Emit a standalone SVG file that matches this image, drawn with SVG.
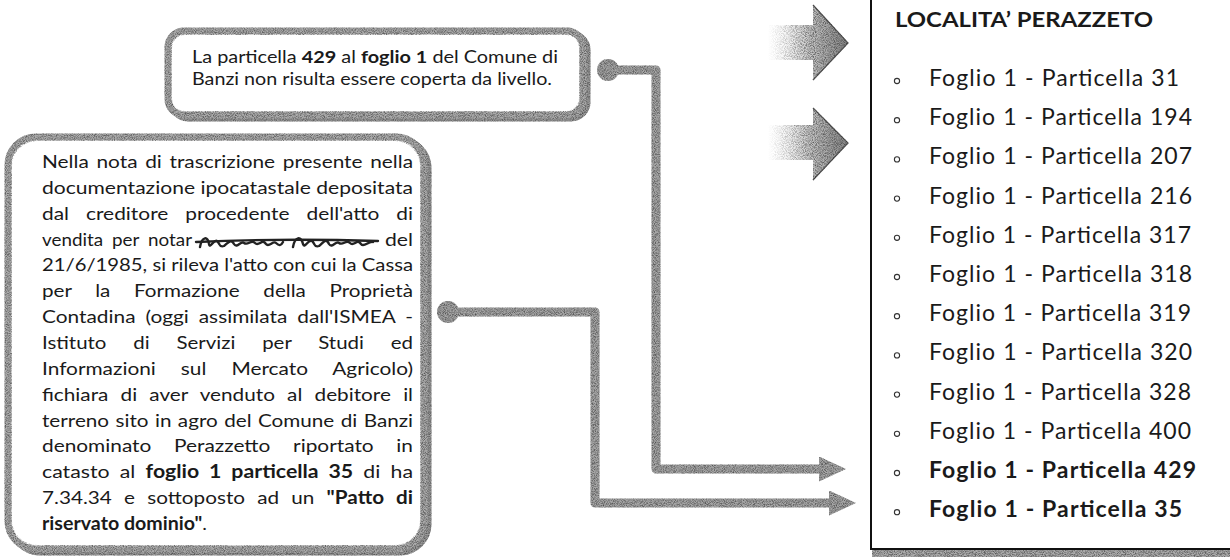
<svg xmlns="http://www.w3.org/2000/svg" width="1230" height="560" viewBox="0 0 1230 560">
<defs>
  <style>
    .t { font-family: Lato, "Open Sans", "Liberation Sans", sans-serif; fill: #1a1a1a; }
    .box { font-size: 18px; }
    .note { font-size: 17px; }
    .li { font-size: 23px; }
    .b { font-weight: bold; }
    .frame { fill: #ffffff; stroke: #ababab; stroke-width: 7; }
    .shadow { fill: none; stroke: #999999; stroke-width: 7; }
    .conn { fill: none; stroke: #a6a6a6; stroke-width: 9; stroke-linejoin: round; }
    .dot { fill: #a3a3a3; }
    .bul { fill: none; stroke: #333; stroke-width: 1.1; }
    .scrib { fill: none; stroke: #222; stroke-width: 2.4; stroke-linecap: round; }
  </style>
  <filter id="grain" filterUnits="userSpaceOnUse" x="0" y="0" width="1230" height="560" color-interpolation-filters="sRGB">
    <feTurbulence type="fractalNoise" baseFrequency="1.1" numOctaves="1" seed="7" result="n"/>
    <feColorMatrix in="n" type="matrix" values="0 0 0 0 0.15  0 0 0 0 0.15  0 0 0 0 0.15  1.6 0 0 0 -0.62" result="dots"/>
    <feComposite in="dots" in2="SourceAlpha" operator="in" result="d2"/>
    <feMerge><feMergeNode in="SourceGraphic"/><feMergeNode in="d2"/></feMerge>
  </filter>
  <linearGradient id="fadeArrow" x1="0" y1="0" x2="1" y2="0">
    <stop offset="0" stop-color="#ffffff" stop-opacity="0"/>
    <stop offset="0.5" stop-color="#c8c8c8"/>
    <stop offset="1" stop-color="#848484"/>
  </linearGradient>
  <marker id="head" markerUnits="userSpaceOnUse" markerWidth="27" markerHeight="25" viewBox="0 0 27 25" refX="1" refY="12.5" orient="auto">
    <path d="M0,0 L27,12.5 L0,25 Z" fill="#a6a6a6"/>
  </marker>
</defs>

<rect width="1230" height="560" fill="#ffffff"/>

<!-- Right list panel -->
<g id="node-list-panel">
  <rect x="872" y="550" width="358" height="7" fill="#ababab" filter="url(#grain)"/>
  <path d="M871,0 V549 H1230" fill="none" stroke="#111" stroke-width="2"/>
  <text class="t b" x="895" y="27" font-size="20" textLength="258" lengthAdjust="spacingAndGlyphs">LOCALITA’ PERAZZETO</text>
  <g>
    <circle class="bul" cx="897" cy="81" r="2.6"/>
    <circle class="bul" cx="897" cy="120.2" r="2.6"/>
    <circle class="bul" cx="897" cy="159.4" r="2.6"/>
    <circle class="bul" cx="897" cy="198.6" r="2.6"/>
    <circle class="bul" cx="897" cy="237.8" r="2.6"/>
    <circle class="bul" cx="897" cy="277" r="2.6"/>
    <circle class="bul" cx="897" cy="316.2" r="2.6"/>
    <circle class="bul" cx="897" cy="355.4" r="2.6"/>
    <circle class="bul" cx="897" cy="394.6" r="2.6"/>
    <circle class="bul" cx="897" cy="433.8" r="2.6"/>
    <circle class="bul" cx="897" cy="473" r="2.6"/>
    <circle class="bul" cx="897" cy="512.2" r="2.6"/>
  </g>
  <text class="t li" x="929" y="86" textLength="250">Foglio 1 - Particella 31</text>
  <text class="t li" x="929" y="125.2" textLength="263">Foglio 1 - Particella 194</text>
  <text class="t li" x="929" y="164.4" textLength="263">Foglio 1 - Particella 207</text>
  <text class="t li" x="929" y="203.6" textLength="263">Foglio 1 - Particella 216</text>
  <text class="t li" x="929" y="242.8" textLength="262">Foglio 1 - Particella 317</text>
  <text class="t li" x="929" y="282" textLength="263">Foglio 1 - Particella 318</text>
  <text class="t li" x="929" y="321.2" textLength="262">Foglio 1 - Particella 319</text>
  <text class="t li" x="929" y="360.4" textLength="263">Foglio 1 - Particella 320</text>
  <text class="t li" x="929" y="399.6" textLength="262">Foglio 1 - Particella 328</text>
  <text class="t li" x="929" y="438.8" textLength="262">Foglio 1 - Particella 400</text>
  <text class="t li b" x="929" y="478" textLength="267">Foglio 1 - Particella 429</text>
  <text class="t li b" x="929" y="517.2" textLength="253">Foglio 1 - Particella 35</text>
</g>

<!-- Decorative block arrows -->
<g id="decor-arrows" filter="url(#grain)">
  <polygon points="768,25 813,25 813,5 848,43 813,80 813,60 768,60" fill="url(#fadeArrow)"/>
  <polygon points="768,125 813,125 813,108 848,143 813,180 813,160 768,160" fill="url(#fadeArrow)"/>
  <path d="M813,5 L848,43 L813,80" fill="none" stroke="#555" stroke-width="1.2"/>
  <path d="M813,108 L848,143 L813,180" fill="none" stroke="#555" stroke-width="1.2"/>
</g>

<!-- Top note -->
<g id="node-top-note">
  <rect class="shadow" x="172" y="34" width="415" height="84" rx="16" filter="url(#grain)"/>
  <rect class="frame" x="168" y="31" width="415" height="84" rx="16" filter="url(#grain)"/>
  <rect x="172" y="35" width="407" height="76" rx="13" fill="#ffffff"/>
  <text class="t note" x="192" y="63" textLength="366" lengthAdjust="spacingAndGlyphs">La particella <tspan class="b">429</tspan> al <tspan class="b">foglio 1</tspan> del Comune di</text>
  <text class="t note" x="192" y="85" textLength="360" lengthAdjust="spacingAndGlyphs">Banzi non risulta essere coperta da livello.</text>
</g>

<!-- Left note -->
<g id="node-left-note">
  <rect class="shadow" x="12" y="140" width="416" height="412" rx="28" filter="url(#grain)"/>
  <rect class="frame" x="8" y="137" width="416" height="412" rx="28" filter="url(#grain)"/>
  <rect x="12" y="141" width="408" height="404" rx="25" fill="#ffffff"/>
  <text class="t box" x="42" y="168" word-spacing="2" textLength="371" lengthAdjust="spacingAndGlyphs">Nella nota di trascrizione presente nella</text>
  <text class="t box" x="42" y="193.9" textLength="371" lengthAdjust="spacingAndGlyphs">documentazione ipocatastale depositata</text>
  <text class="t box" x="42" y="219.7" word-spacing="10" textLength="371" lengthAdjust="spacingAndGlyphs">dal creditore procedente dell'atto di</text>
  <text class="t box" x="42" y="245.6" word-spacing="4" textLength="150" lengthAdjust="spacingAndGlyphs">vendita per notar</text>
  <path class="scrib" d="M200,247 C202,236 208,236 209,244 C210,249 214,239 217,241 C220,243 219,248 224,246 C228,243 231,238 234,244 C237,249 241,240 244,243 C248,246 251,239 255,243 C259,247 262,238 266,244 C269,248 273,240 276,243 C279,246 281,246 283,242 M293,247 C295,236 301,236 303,244 C305,249 308,239 312,241 C315,243 314,248 319,246 C323,243 326,237 329,244 C332,249 336,240 339,243 C343,246 346,239 350,243 C354,247 357,238 361,244 C364,248 368,241 373,242"/>
  <path class="scrib" d="M196,242 C240,240 310,239 378,241" stroke-width="2.6"/>
  <text class="t box" x="385" y="245.6" textLength="28" lengthAdjust="spacingAndGlyphs">del</text>
  <text class="t box" x="42" y="271.4" textLength="371" lengthAdjust="spacingAndGlyphs">21/6/1985, si rileva l'atto con cui la Cassa</text>
  <text class="t box" x="42" y="297.3" word-spacing="16" textLength="371" lengthAdjust="spacingAndGlyphs">per la Formazione della Proprietà</text>
  <text class="t box" x="42" y="323.1" word-spacing="4" textLength="371" lengthAdjust="spacingAndGlyphs">Contadina (oggi assimilata dall'ISMEA -</text>
  <text class="t box" x="42" y="349" word-spacing="19" textLength="371" lengthAdjust="spacingAndGlyphs">Istituto di Servizi per Studi ed</text>
  <text class="t box" x="42" y="374.8" word-spacing="17" textLength="371" lengthAdjust="spacingAndGlyphs">Informazioni sul Mercato Agricolo)</text>
  <text class="t box" x="42" y="400.7" word-spacing="6" textLength="371" lengthAdjust="spacingAndGlyphs">fichiara di aver venduto al debitore il</text>
  <text class="t box" x="42" y="426.5" word-spacing="1" textLength="371" lengthAdjust="spacingAndGlyphs">terreno sito in agro del Comune di Banzi</text>
  <text class="t box" x="42" y="452.4" word-spacing="15" textLength="371" lengthAdjust="spacingAndGlyphs">denominato Perazzetto riportato in</text>
  <text class="t box" x="42" y="478.2" word-spacing="4" textLength="371" lengthAdjust="spacingAndGlyphs">catasto al <tspan class="b">foglio 1 particella 35</tspan> di ha</text>
  <text class="t box" x="42" y="504.1" word-spacing="6" textLength="371" lengthAdjust="spacingAndGlyphs">7.34.34 e sottoposto ad un <tspan class="b">"Patto di</tspan></text>
  <text class="t box" x="42" y="529.9" textLength="165" lengthAdjust="spacingAndGlyphs"><tspan class="b">riservato dominio"</tspan>.</text>
</g>

<!-- Connectors -->
<g id="connectors" filter="url(#grain)">
  <circle class="dot" cx="608" cy="70" r="11"/>
  <path class="conn" d="M608,70 H656 V469 H820" marker-end="url(#head)"/>
  <circle class="dot" cx="448" cy="312" r="11"/>
  <path class="conn" d="M448,312 H595 V503 H830" marker-end="url(#head)"/>
</g>
</svg>
